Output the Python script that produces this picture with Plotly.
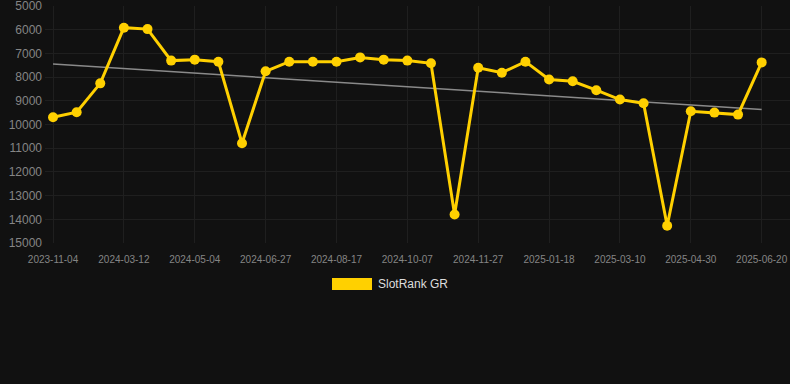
import numpy as np
import plotly.graph_objects as go

dates = ["2023-11-04", "2024-01-15", "2024-02-20", "2024-03-12", "2024-03-29", "2024-04-16",
         "2024-05-04", "2024-05-22", "2024-06-09", "2024-06-27", "2024-07-14", "2024-07-31",
         "2024-08-17", "2024-09-03", "2024-09-20", "2024-10-07", "2024-10-24", "2024-11-10",
         "2024-11-27", "2024-12-14", "2025-01-01", "2025-01-18", "2025-02-04", "2025-02-21",
         "2025-03-10", "2025-03-27", "2025-04-13", "2025-04-30", "2025-05-17", "2025-06-03",
         "2025-06-20"]
ranks = [9690, 9480, 8260, 5910, 5970, 7300, 7260, 7345, 10790, 7750, 7345, 7345,
         7345, 7165, 7260, 7300, 7415, 13800, 7600, 7810, 7345, 8100, 8175, 8550,
         8945, 9100, 14270, 9440, 9495, 9580, 7375]
series_name = "SlotRank GR"
y_ticks = [5000, 6000, 7000, 8000, 9000, 10000, 11000, 12000, 13000, 14000, 15000]
y_tick_labels = [str(v) for v in y_ticks]

idx = np.arange(len(dates))
slope, intercept = np.polyfit(idx, ranks, 1)
trend = slope * idx + intercept

tick_idx = list(idx[::3])
tick_txt = [dates[i] for i in tick_idx]

fig = go.Figure()
fig.add_trace(go.Scatter(
    x=[idx[0], idx[-1]], y=[trend[0], trend[-1]], mode="lines",
    line=dict(color="#8a8a8a", width=1.5), hoverinfo="skip", showlegend=False))
fig.add_trace(go.Scatter(
    x=idx, y=ranks, mode="lines+markers", name=series_name,
    line=dict(color="#FFD000", width=3),
    marker=dict(color="#FFD000", size=10), showlegend=False))

grid = "#1f1f1f"
PH = 237.0
fig.update_layout(
    width=790, height=384,
    paper_bgcolor="#111111", plot_bgcolor="#111111",
    margin=dict(l=45, r=0, t=6, b=141),
    font=dict(family="Liberation Sans, Arial, sans-serif"),
    xaxis=dict(range=[-0.34, 31.2], tickmode="array", tickvals=tick_idx, ticktext=tick_txt,
               showgrid=True, gridcolor=grid, gridwidth=1, zeroline=False,
               tickfont=dict(size=10, color="#858585"), ticks="", showline=False,
               ticklabelstandoff=9, ticklabeloverflow="allow"),
    yaxis=dict(range=[15000, 4995], tickmode="array", tickvals=y_ticks, ticktext=y_tick_labels,
               showgrid=True, gridcolor=grid, gridwidth=1, zeroline=False,
               tickfont=dict(size=12, color="#858585"), ticks="", ticklabelstandoff=2,
               ticklabeloverflow="allow"),
    showlegend=False,
)
fig.add_shape(type="rect", xref="paper", yref="paper",
              x0=(332 - 45) / 745, x1=(372 - 45) / 745,
              y0=(243 - 290) / PH, y1=(243 - 278) / PH,
              fillcolor="#FFD000", line=dict(width=0))
fig.add_annotation(text=series_name, xref="paper", yref="paper",
                   x=(376 - 45) / 745, y=(243 - 284) / PH, xanchor="left", yanchor="middle",
                   showarrow=False, font=dict(size=12, color="#dddddd"))
fig.write_html("out.html", config={"displayModeBar": False},
               post_script="document.body.style.margin='0';document.body.style.background='#111111';")
